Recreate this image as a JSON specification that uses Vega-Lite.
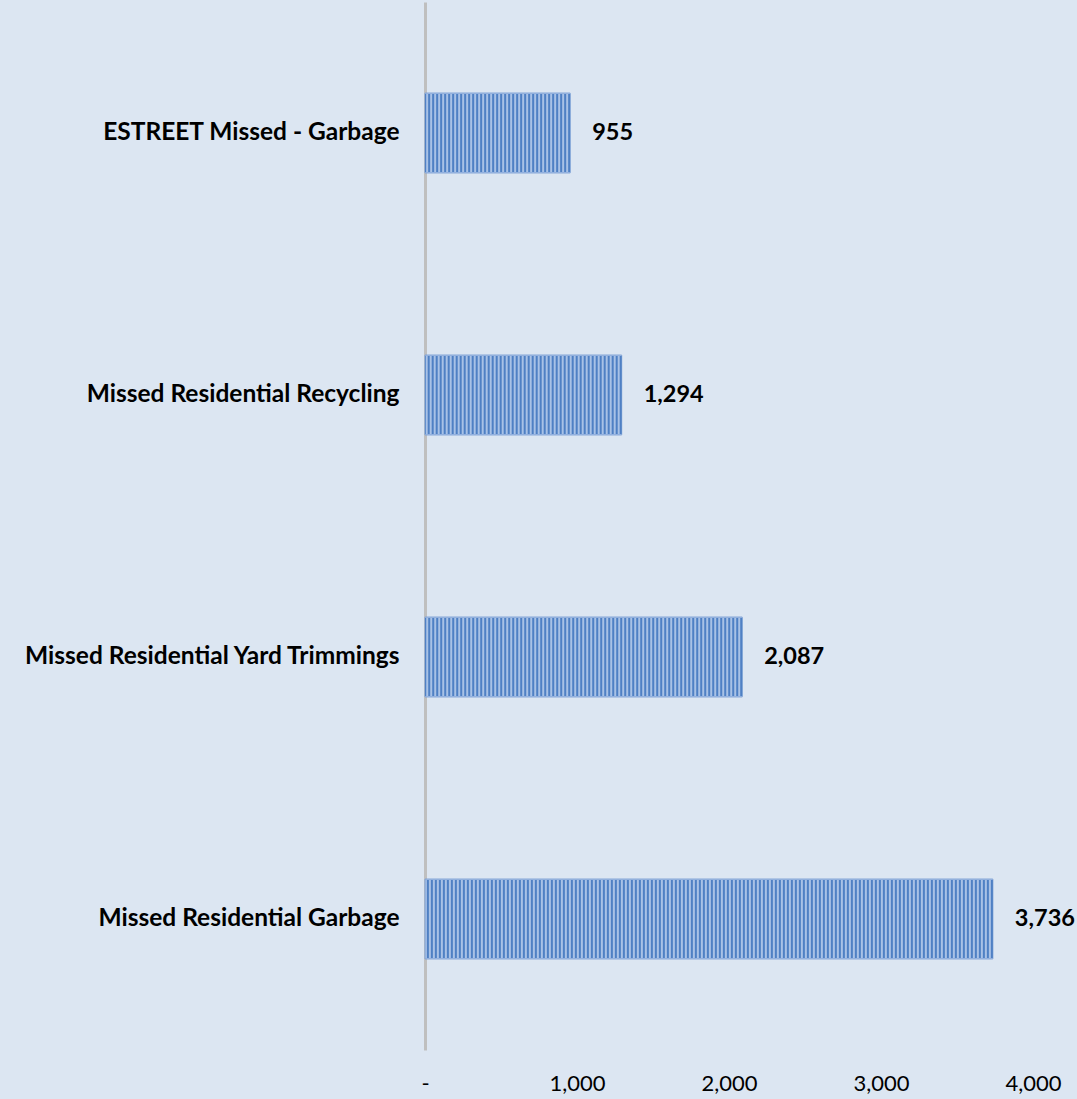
{
  "$schema": "https://vega.github.io/schema/vega-lite/v6.json",
  "width": 608,
  "height": 1048,
  "autosize": {"type": "none"},
  "padding": {"left": 425, "top": 2, "right": 44, "bottom": 49},
  "background": "#DCE6F2",
  "config": {"view": {"stroke": null}, "font": "Lato"},
  "data": {
    "values": [
      {"category": "ESTREET Missed - Garbage", "value": 955},
      {"category": "Missed Residential Recycling", "value": 1294},
      {"category": "Missed Residential Yard Trimmings", "value": 2087},
      {"category": "Missed Residential Garbage", "value": 3736}
    ]
  },
  "encoding": {
    "y": {
      "field": "category",
      "type": "nominal",
      "sort": ["ESTREET Missed - Garbage", "Missed Residential Recycling", "Missed Residential Yard Trimmings", "Missed Residential Garbage"],
      "scale": {"paddingInner": 0.695, "paddingOuter": 0.3475},
      "axis": {
        "title": null,
        "domainColor": "#BFBFBF",
        "domainWidth": 3,
        "ticks": false,
        "grid": false,
        "labelFont": "Lato",
        "labelFontSize": 24.5,
        "labelFontWeight": "bold",
        "labelColor": "#000000",
        "labelPadding": 26,
        "labelLimit": 500
      }
    }
  },
  "layer": [
    {
      "mark": {"type": "bar", "color": "#A9C2E6", "stroke": "#7FA2D6", "strokeWidth": 1},
      "encoding": {
        "x": {
          "field": "value",
          "type": "quantitative",
          "scale": {"domain": [0, 4000], "nice": false},
          "axis": {
            "title": null,
            "values": [0, 1000, 2000, 3000, 4000],
            "labelExpr": "datum.value == 0 ? '-' : format(datum.value, ',')",
            "domain": false,
            "ticks": false,
            "grid": false,
            "labelFont": "Lato",
            "labelFontSize": 22,
            "labelColor": "#000000",
            "labelPadding": 23,
            "labelFlush": false
          }
        }
      }
    },
    {
      "mark": {"type": "rule", "color": "#4F80C4", "strokeWidth": 78, "strokeDash": [2, 2], "strokeCap": "butt"},
      "encoding": {
        "x": {"field": "value", "type": "quantitative"},
        "x2": {"datum": 0}
      }
    },
    {
      "mark": {"type": "text", "align": "left", "baseline": "middle", "dx": 22, "font": "Lato", "fontSize": 23.5, "fontWeight": "bold", "color": "#000000"},
      "encoding": {
        "x": {"field": "value", "type": "quantitative"},
        "text": {"field": "value", "type": "quantitative", "format": ","}
      }
    }
  ]
}
